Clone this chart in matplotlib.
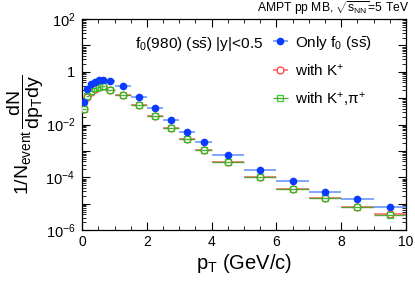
import numpy as np
import matplotlib
matplotlib.use("Agg")
import matplotlib.pyplot as plt
from matplotlib.ticker import LogLocator, FixedLocator, NullFormatter

plt.rcParams['font.family'] = ['Liberation Sans', 'DejaVu Sans']
plt.rcParams['mathtext.fontset'] = 'custom'
plt.rcParams['mathtext.rm'] = 'Liberation Sans'
plt.rcParams['mathtext.it'] = 'Liberation Sans'
plt.rcParams['mathtext.bf'] = 'Liberation Sans:bold'

# pT bins (centres and half widths, GeV/c)
pt = [0.06, 0.16, 0.27, 0.39, 0.51, 0.64, 0.86, 1.25, 1.75, 2.25, 2.75, 3.25, 3.75,
      4.5, 5.5, 6.5, 7.5, 8.5, 9.5]
pt_err = [0.05, 0.05, 0.05, 0.06, 0.06, 0.07, 0.15, 0.25, 0.25, 0.25, 0.25, 0.25, 0.25,
          0.5, 0.5, 0.5, 0.5, 0.5, 0.5]

# spectra
only_f0 = [0.074, 0.22, 0.35, 0.42, 0.48, 0.50, 0.44, 0.28, 0.11, 0.042, 0.0145, 5.4e-3, 2.2e-3,
           7.0e-4, 1.9e-4, 7.0e-5, 2.9e-5, 1.5e-5, 7.4e-6]
with_k = [0.039, 0.114, 0.18, 0.23, 0.26, 0.28, 0.20, 0.13, 0.055, 0.021, 7.4e-3, 2.8e-3, 1.1e-3,
          3.7e-4, 1.07e-4, 3.6e-5, 1.6e-5, 7.6e-6, 4.0e-6]
with_k_pi = [0.040, 0.118, 0.19, 0.24, 0.27, 0.29, 0.21, 0.13, 0.056, 0.021, 7.5e-3, 2.8e-3, 1.1e-3,
             3.7e-4, 1.05e-4, 3.5e-5, 1.6e-5, 7.5e-6, 3.9e-6]

fig = plt.figure(figsize=(4.15, 2.81), dpi=100)
ax = fig.add_axes([0.198, 0.181, 0.78, 0.751])

e1 = ax.errorbar(pt, only_f0, xerr=pt_err, fmt='o', color='#0a3cff', ecolor='#6e96ff',
                 markersize=4.5, elinewidth=1.2, capsize=0, label=r'Only f$_{0}$ (s$\bar{\rm s}$)', zorder=5)
e2 = ax.errorbar(pt, with_k, xerr=pt_err, fmt='o', color='#ff3a3a', ecolor='#ff7070',
                 markerfacecolor='white', markersize=5, markeredgewidth=0.9, elinewidth=1.2,
                 capsize=0, label=r'with K$^{+}$', zorder=3)
e3 = ax.errorbar(pt, with_k_pi, xerr=pt_err, fmt='s', color='#1fc81f', ecolor='#4aa02a',
                 markerfacecolor='none', markersize=5, markeredgewidth=0.9, elinewidth=1.0,
                 capsize=0, label=r'with K$^{+}$,$\pi^{+}$', zorder=4, alpha=0.9)

ax.set_yscale('log')
ax.set_xlim(0, 10)
ax.set_ylim(1e-6, 1e2)

ax.xaxis.set_major_locator(FixedLocator([0, 2, 4, 6, 8, 10]))
ax.xaxis.set_minor_locator(FixedLocator(np.arange(0, 10.01, 0.5)))
ax.set_xticklabels(['0', '2', '4', '6', '8', '10'])
ax.yaxis.set_major_locator(LogLocator(base=10, numticks=20))
ax.yaxis.set_minor_locator(LogLocator(base=10, subs=np.arange(2, 10), numticks=20))
ax.yaxis.set_minor_formatter(NullFormatter())
ax.set_yticks([1e-6, 1e-5, 1e-4, 1e-3, 1e-2, 1e-1, 1, 10, 100])
ax.set_yticklabels([r'10$^{-6}$', '', r'10$^{-4}$', '', r'10$^{-2}$', '', '1', '', r'10$^{2}$'])

ax.tick_params(which='both', direction='in', top=True, right=True)
ax.tick_params(axis='x', labelsize=10)
ax.tick_params(axis='y', labelsize=10.5, pad=5)
ax.tick_params(which='major', length=6, width=0.8)
ax.tick_params(which='minor', length=3, width=0.6)
for s in ax.spines.values():
    s.set_linewidth(0.9)

ax.set_xlabel(r'p$_{\rm T}$ (GeV/c)', fontsize=14.5, labelpad=2)
ax.set_ylabel(r'$1/N_{\rm event}\,\dfrac{dN}{dp_{\rm T}dy}$', fontsize=14)
ax.yaxis.set_label_coords(-0.112, 0.45)

fig.text(0.985, 0.972, r'AMPT pp MB, $\sqrt{s_{\rm NN}}$=5 TeV', ha='right', va='center', fontsize=8.7)
ax.text(0.164, 0.88, r'f$_{0}$(980) (s$\bar{\rm s}$) |y|<0.5', transform=ax.transAxes,
        fontsize=11.1, ha='left', va='center')

ax.legend(handles=[e1, e2, e3], loc='upper left', bbox_to_anchor=(0.56, 0.96), frameon=False,
          fontsize=11, handlelength=1.4, handletextpad=0.25, labelspacing=0.72, borderaxespad=0)

fig.savefig('out.png', dpi=100)
